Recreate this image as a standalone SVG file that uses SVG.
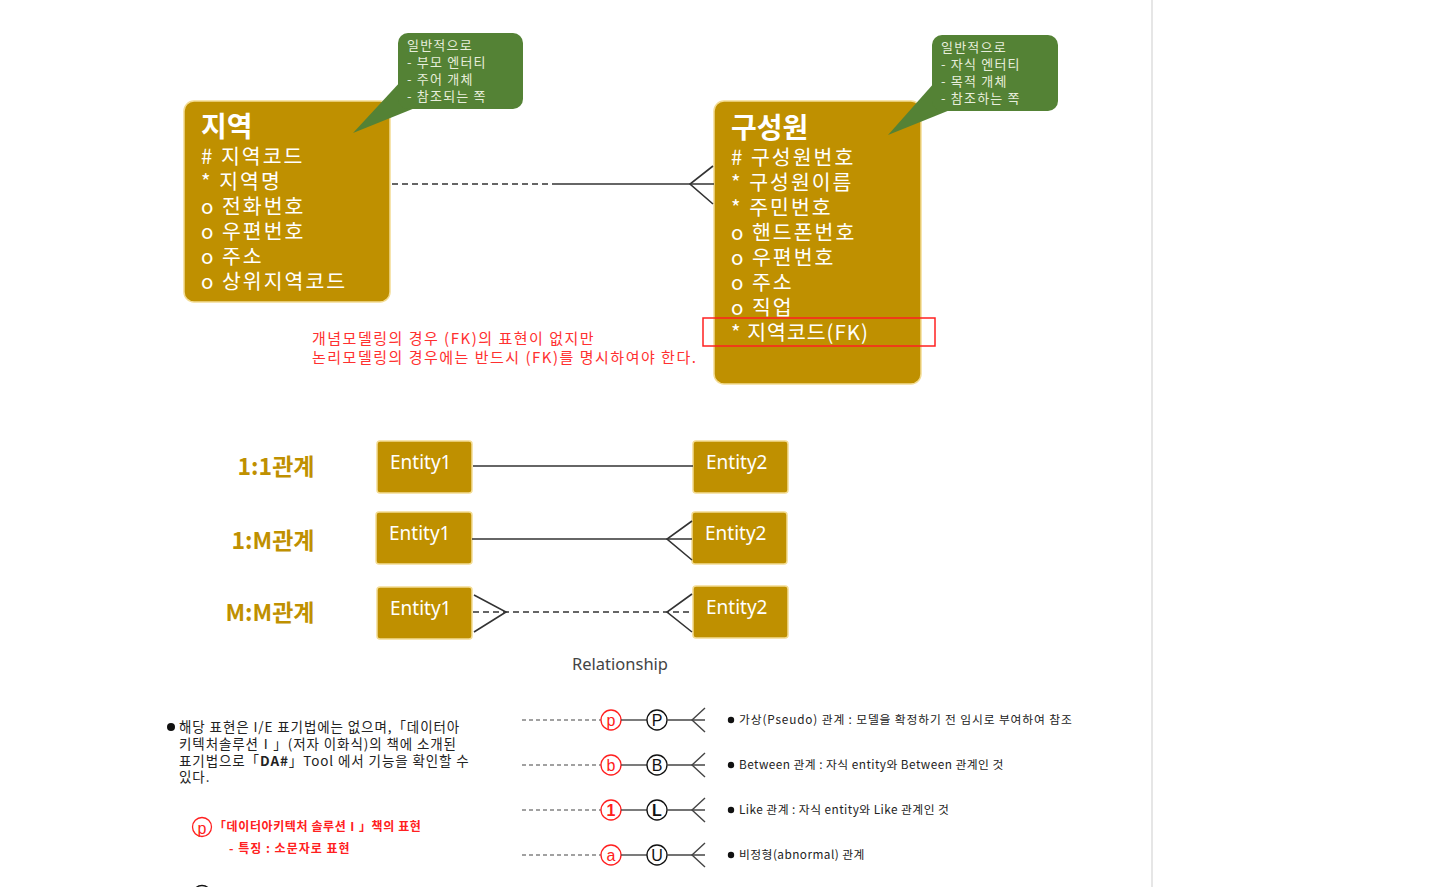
<svg xmlns="http://www.w3.org/2000/svg" width="1448" height="887" viewBox="0 0 1448 887">
<style>
.ent{fill:#bf9000;stroke:#f3dc94;stroke-width:1.5}
.call{fill:#548235}
.ttl{font-family:"Noto Sans CJK KR",sans-serif;font-weight:bold;font-size:28px;fill:#fff}
.att{font-family:"Noto Sans CJK KR",sans-serif;font-size:20.5px;letter-spacing:2px;fill:#fff}
.ctx{font-family:"Noto Sans CJK KR",sans-serif;font-size:13px;letter-spacing:1.2px;fill:#e8eedc}
.red{font-family:"Noto Sans CJK KR",sans-serif;font-size:15px;letter-spacing:1.5px;fill:#ff3030}
.rel{font-family:"Noto Sans CJK KR",sans-serif;font-weight:bold;font-size:23px;fill:#bf9000}
.etx{font-family:"Noto Sans","Noto Sans CJK KR",sans-serif;font-size:19px;fill:#fff}
.ln{stroke:#333;stroke-width:1.6;fill:none}
.dash{stroke:#333;stroke-width:1.6;fill:none;stroke-dasharray:6 4}
.note{font-family:"Noto Sans CJK KR",sans-serif;font-size:13.5px;letter-spacing:0.9px;fill:#222}
.sm{font-family:"Noto Sans CJK KR",sans-serif;font-size:11.8px;letter-spacing:0.45px;fill:#222}
.rc{fill:none;stroke:#ff2020;stroke-width:1.3}
.bc{fill:none;stroke:#111;stroke-width:1.3}
.rl{font-family:"Liberation Sans",sans-serif;font-size:16px;fill:#ff2020;text-anchor:middle}
.bl{font-family:"Liberation Sans",sans-serif;font-size:16px;fill:#111;text-anchor:middle}
.sl{stroke:#444;stroke-width:1.4;fill:none}
.sd{stroke:#444;stroke-width:1.2;fill:none;stroke-dasharray:4 3}
.rb{font-family:"Noto Sans CJK KR",sans-serif;font-size:12px;font-weight:bold;fill:#ff2020}
</style>
<rect x="0" y="0" width="1448" height="887" fill="#fff"/>
<rect x="1151" y="0" width="2" height="887" fill="#e6e6e6"/>

<g id="region">
<rect class="ent" x="184" y="101" width="206" height="201" rx="10"/>
<text class="ttl" x="201" y="137">지역</text>
<text class="att" x="201" y="164"># 지역코드</text>
<text class="att" x="201" y="189">* 지역명</text>
<text class="att" x="201" y="214">o 전화번호</text>
<text class="att" x="201" y="239">o 우편번호</text>
<text class="att" x="201" y="264">o 주소</text>
<text class="att" x="201" y="289">o 상위지역코드</text>
</g>
<g id="callout-parent">
<polygon class="call" points="402,80 420,106 353,133"/>
<rect class="call" x="398" y="33" width="125" height="76" rx="10"/>
<text class="ctx" x="407" y="50">일반적으로</text>
<text class="ctx" x="407" y="67">- 부모 엔터티</text>
<text class="ctx" x="407" y="84">- 주어 개체</text>
<text class="ctx" x="407" y="101">- 참조되는 쪽</text>
</g>

<g id="member">
<rect class="ent" x="714" y="101" width="207" height="283" rx="10"/>
<text class="ttl" x="731" y="138">구성원</text>
<text class="att" x="731" y="165"># 구성원번호</text>
<text class="att" x="731" y="190">* 구성원이름</text>
<text class="att" x="731" y="215">* 주민번호</text>
<text class="att" x="731" y="240">o 핸드폰번호</text>
<text class="att" x="731" y="265">o 우편번호</text>
<text class="att" x="731" y="290">o 주소</text>
<text class="att" x="731" y="315">o 직업</text>
<text class="att" x="731" y="340" style="letter-spacing:1px">* 지역코드(FK)</text>
<rect x="703" y="318" width="232" height="28" fill="none" stroke="#ff2020" stroke-width="1.5"/>
</g>
<g id="callout-child">
<polygon class="call" points="935,82 955,108 888,135"/>
<rect class="call" x="932" y="35" width="126" height="76" rx="10"/>
<text class="ctx" x="941" y="52">일반적으로</text>
<text class="ctx" x="941" y="69">- 자식 엔터티</text>
<text class="ctx" x="941" y="86">- 목적 개체</text>
<text class="ctx" x="941" y="103">- 참조하는 쪽</text>
</g>

<g id="fk-note">
<text class="red" x="312" y="344">개념모델링의 경우 (FK)의 표현이 없지만</text>
<text class="red" x="312" y="363">논리모델링의 경우에는 반드시 (FK)를 명시하여야 한다.</text>
</g>

<g id="rel-11">
<text class="rel" x="276" y="475" text-anchor="middle">1:1관계</text>
<rect class="ent" x="377" y="441" width="95" height="52" rx="3"/>
<text class="etx" x="390" y="469">Entity1</text>
<rect class="ent" x="693" y="441" width="95" height="52" rx="3"/>
<text class="etx" x="706" y="469">Entity2</text>
</g>
<g id="rel-1m">
<text class="rel" x="273" y="549" text-anchor="middle">1:M관계</text>
<rect class="ent" x="376" y="512" width="96" height="52" rx="3"/>
<text class="etx" x="389" y="540">Entity1</text>
<rect class="ent" x="692" y="512" width="95" height="52" rx="3"/>
<text class="etx" x="705" y="540">Entity2</text>
</g>
<g id="rel-mm">
<text class="rel" x="270" y="621" text-anchor="middle">M:M관계</text>
<rect class="ent" x="377" y="587" width="95" height="52" rx="3"/>
<text class="etx" x="390" y="615">Entity1</text>
<rect class="ent" x="693" y="586" width="95" height="52" rx="3"/>
<text class="etx" x="706" y="614">Entity2</text>
</g>
<text x="620" y="670" text-anchor="middle" font-family="Noto Sans, Noto Sans CJK KR, sans-serif" font-size="16.5" fill="#444">Relationship</text>

<g id="connectors">
<line class="dash" x1="392" y1="184" x2="552" y2="184"/>
<line class="ln" x1="552" y1="184" x2="714" y2="184"/>
<polyline class="ln" points="713,166 690,184 713,204"/>
<line class="ln" x1="473" y1="466" x2="693" y2="466"/>
<line class="ln" x1="472" y1="539" x2="692" y2="539"/>
<polyline class="ln" points="692,521 667,539 692,560"/>
<line class="dash" x1="473" y1="612" x2="693" y2="612"/>
<polyline class="ln" points="474,595 506,612 474,632"/>
<polyline class="ln" points="692,594 667,612 692,632"/>
</g>

<g id="note-left">
<circle cx="171" cy="727" r="4" fill="#111"/>
<text class="note" x="179" y="732">해당 표현은 I/E 표기법에는 없으며,「데이터아</text>
<text class="note" x="179" y="749">키텍처솔루션Ⅰ」(저자 이화식)의 책에 소개된</text>
<text class="note" x="179" y="766">표기법으로「<tspan font-weight="bold">DA#</tspan>」Tool 에서 기능을 확인할 수</text>
<text class="note" x="179" y="782">있다.</text>
<circle class="rc" cx="202" cy="827" r="9.5"/>
<text class="rl" x="202" y="834">p</text>
<text class="rb" x="214" y="831" style="letter-spacing:0.6px">「데이터아키텍처 솔루션Ⅰ」책의 표현</text>
<text class="rb" x="229" y="853" style="letter-spacing:1px">- 특징 : 소문자로 표현</text>
<circle class="bc" cx="202" cy="895" r="9.5"/>
</g>

<g id="legend-p">
<line class="sd" x1="522" y1="720" x2="601" y2="720"/>
<circle class="rc" cx="611" cy="720" r="10"/>
<text class="rl" x="611" y="726">p</text>
<line class="sl" x1="621" y1="720" x2="647" y2="720"/>
<circle class="bc" cx="657" cy="720" r="10"/>
<text class="bl" x="657" y="726">P</text>
<line class="sl" x1="667" y1="720" x2="705" y2="720"/>
<polyline class="sl" points="705,708 692,720 705,732"/>
<circle cx="731" cy="720" r="3.2" fill="#111"/>
<text class="sm" x="739" y="724" style="letter-spacing:0.85px">가상(Pseudo) 관계 : 모델을 확정하기 전 임시로 부여하여 참조</text>
</g>
<g id="legend-b">
<line class="sd" x1="522" y1="765" x2="601" y2="765"/>
<circle class="rc" cx="611" cy="765" r="10"/>
<text class="rl" x="611" y="771">b</text>
<line class="sl" x1="621" y1="765" x2="647" y2="765"/>
<circle class="bc" cx="657" cy="765" r="10"/>
<text class="bl" x="657" y="771">B</text>
<line class="sl" x1="667" y1="765" x2="705" y2="765"/>
<polyline class="sl" points="705,753 692,765 705,777"/>
<circle cx="731" cy="765" r="3.2" fill="#111"/>
<text class="sm" x="739" y="769">Between 관계 : 자식 entity와 Between 관계인 것</text>
</g>
<g id="legend-l">
<line class="sd" x1="522" y1="810" x2="601" y2="810"/>
<circle class="rc" cx="611" cy="810" r="10"/>
<text class="rl" x="611" y="816" font-family="Liberation Mono, monospace" font-weight="bold">1</text>
<line class="sl" x1="621" y1="810" x2="647" y2="810"/>
<circle class="bc" cx="657" cy="810" r="10"/>
<text class="bl" x="657" y="816" font-family="Liberation Mono, monospace" font-weight="bold">L</text>
<line class="sl" x1="667" y1="810" x2="705" y2="810"/>
<polyline class="sl" points="705,798 692,810 705,822"/>
<circle cx="731" cy="810" r="3.2" fill="#111"/>
<text class="sm" x="739" y="814">Like 관계 : 자식 entity와 Like 관계인 것</text>
</g>
<g id="legend-a">
<line class="sd" x1="522" y1="855" x2="601" y2="855"/>
<circle class="rc" cx="611" cy="855" r="10"/>
<text class="rl" x="611" y="861">a</text>
<line class="sl" x1="621" y1="855" x2="647" y2="855"/>
<circle class="bc" cx="657" cy="855" r="10"/>
<text class="bl" x="657" y="861">U</text>
<line class="sl" x1="667" y1="855" x2="705" y2="855"/>
<polyline class="sl" points="705,843 692,855 705,867"/>
<circle cx="731" cy="855" r="3.2" fill="#111"/>
<text class="sm" x="739" y="859">비정형(abnormal) 관계</text>
</g>
</svg>
